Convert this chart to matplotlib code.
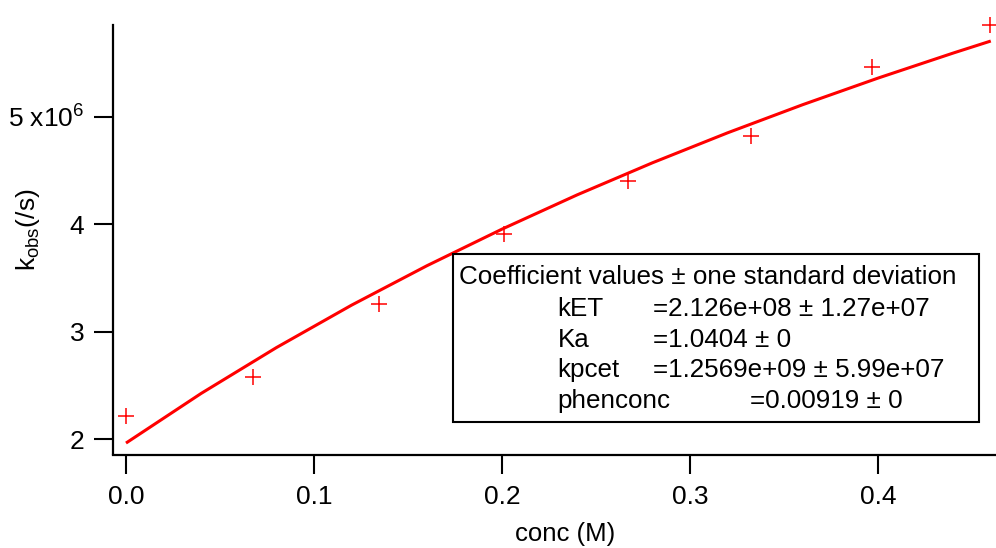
import numpy as np
import matplotlib
matplotlib.use("Agg")
import matplotlib.pyplot as plt
from matplotlib.patches import Rectangle
from matplotlib.ticker import FuncFormatter

plt.rcParams['font.family'] = ['Liberation Sans', 'DejaVu Sans']
plt.rcParams['mathtext.default'] = 'regular'

# measured rate constants vs quencher concentration
conc = [0.0, 0.0674, 0.1347, 0.2012, 0.2672, 0.3324, 0.3966, 0.4596]
kobs = [2.217e6, 2.582e6, 3.259e6, 3.907e6, 4.403e6, 4.821e6, 5.460e6, 5.854e6]

# fitted curve
fit_conc = [0.0, 0.04, 0.08, 0.12, 0.16, 0.20, 0.24, 0.28, 0.32, 0.36, 0.40, 0.44, 0.46]
fit_kobs = [1.965e6, 2.427e6, 2.853e6, 3.248e6, 3.614e6, 3.955e6, 4.274e6,
            4.572e6, 4.851e6, 5.113e6, 5.360e6, 5.593e6, 5.705e6]

yticks = [2e6, 3e6, 4e6, 5e6]
xticks = [0.0, 0.1, 0.2, 0.3, 0.4]

coef_title = "Coefficient values \u00b1 one standard deviation"
coef_names = ["kET", "Ka", "kpcet", "phenconc"]
coef_vals = ["=2.126e+08 \u00b1 1.27e+07", "=1.0404 \u00b1 0",
             "=1.2569e+09 \u00b1 5.99e+07", "=0.00919 \u00b1 0"]

W, H = 996, 548
fig = plt.figure(figsize=(W / 100, H / 100), dpi=100)
ax = fig.add_axes([113 / W, 1 - 454.5 / H, (W - 113) / W, (454.5 - 25) / H])

ax.plot(fit_conc, fit_kobs, color='red', lw=2.2, solid_capstyle='butt')
ax.plot(conc, kobs, ls='none', marker='+', ms=11, mew=1.1, color='red', clip_on=False)

ax.set_xlim(-0.00691, 0.46277)
ax.set_ylim(1.8586e6, 5.854e6)

for s in ['top', 'right']:
    ax.spines[s].set_visible(False)
for s in ['left', 'bottom']:
    ax.spines[s].set_linewidth(1.6)

ax.set_xticks(xticks)
ax.set_yticks(yticks)
ax.xaxis.set_major_formatter(FuncFormatter(lambda v, p: "%.1f" % v))


def yfmt(v, p):
    n = int(round(v / 1e6))
    if n == 5:
        return "%d x10$^{6}$" % n
    return "%d" % n


ax.yaxis.set_major_formatter(FuncFormatter(yfmt))
ax.tick_params(direction='out', length=13.7, width=1.5, labelsize=19)
ax.tick_params(axis='x', pad=8)
ax.tick_params(axis='y', pad=7)

fig.text(565 / W, 1 - 534 / H, "conc (M)", ha='center', va='center', fontsize=18.5)
fig.text(28 / W, 1 - 230 / H, "k$_{obs}$(/s)", ha='center', va='center',
         rotation=90, fontsize=19)

# coefficient table
fig.patches.append(Rectangle((453 / W, 1 - 421.7 / H), (979 - 453) / W, (421.7 - 254) / H,
                             transform=fig.transFigure, fill=True, facecolor='white',
                             edgecolor='black', lw=1.5, zorder=5))
fig.text(459 / W, 1 - 277 / H, coef_title, ha='left', va='center', fontsize=18.7, zorder=6)
rows_y = [309, 340, 370, 401]
for name, val, yy in zip(coef_names, coef_vals, rows_y):
    fig.text(557.5 / W, 1 - yy / H, name, ha='left', va='center', fontsize=18.7, zorder=6)
    xv = 749.7 if name == "phenconc" else 652.7
    fig.text(xv / W, 1 - yy / H, val, ha='left', va='center', fontsize=18.7, zorder=6)

fig.savefig("out.png", dpi=100)
